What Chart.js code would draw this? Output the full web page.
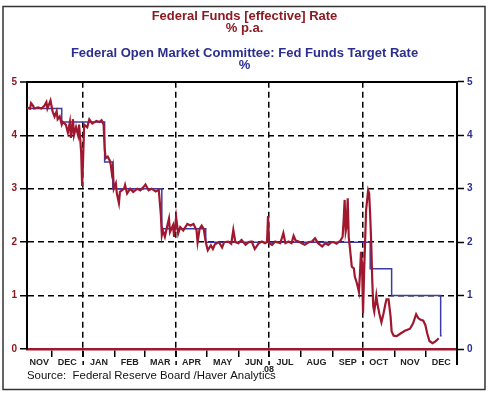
<!DOCTYPE html>
<html>
<head>
<meta charset="utf-8">
<script src="https://cdn.jsdelivr.net/npm/chart.js@4.4.1/dist/chart.umd.min.js"></script>
<style>
    html, body { margin: 0; padding: 0; background: #fff; }
    #wrap { position: relative; width: 489px; height: 394px; }
</style>
</head>
<body>
<div id="wrap"><canvas id="fedChart"></canvas></div>
<script>
// month axis
const monthLabels = ['NOV', 'DEC', 'JAN', 'FEB', 'MAR', 'APR', 'MAY', 'JUN', 'JUL', 'AUG', 'SEP', 'OCT', 'NOV', 'DEC'];
const monthStarts = ['2007-11-01', '2007-12-01', '2008-01-01', '2008-02-01', '2008-03-01', '2008-04-01', '2008-05-01',
    '2008-06-01', '2008-07-01', '2008-08-01', '2008-09-01', '2008-10-01', '2008-11-01', '2008-12-01', '2009-01-01'];
const quarterStarts = ['2008-01-01', '2008-04-01', '2008-07-01', '2008-10-01'];
const yearLabelDate = '2008-07-01';
const yearLabel = '08';
const axisStart = '2007-11-07';
const yTicks = [0, 1, 2, 3, 4, 5];

// Federal Funds [effective] Rate, % p.a.
const effDates = [
    '2007-11-07', '2007-11-10', '2007-11-11', '2007-11-13', '2007-11-14', '2007-11-18', '2007-11-21', '2007-11-24',
    '2007-11-26', '2007-11-27', '2007-11-30', '2007-12-02', '2007-12-04', '2007-12-06', '2007-12-07', '2007-12-09',
    '2007-12-11', '2007-12-12', '2007-12-15', '2007-12-17', '2007-12-19', '2007-12-20', '2007-12-22', '2007-12-23',
    '2007-12-25', '2007-12-27', '2007-12-28', '2007-12-30', '2007-12-31', '2008-01-01', '2008-01-02', '2008-01-05',
    '2008-01-07', '2008-01-10', '2008-01-14', '2008-01-17', '2008-01-19', '2008-01-21', '2008-01-22', '2008-01-23',
    '2008-01-25', '2008-01-27', '2008-01-28', '2008-01-29', '2008-01-30', '2008-01-31', '2008-02-02', '2008-02-03',
    '2008-02-05', '2008-02-06', '2008-02-10', '2008-02-11', '2008-02-13', '2008-02-16', '2008-02-19', '2008-02-23',
    '2008-02-26', '2008-02-29', '2008-03-02', '2008-03-05', '2008-03-08', '2008-03-12', '2008-03-15', '2008-03-17',
    '2008-03-18', '2008-03-19', '2008-03-21', '2008-03-23', '2008-03-25', '2008-03-26', '2008-03-29', '2008-03-30',
    '2008-04-01', '2008-04-03', '2008-04-05', '2008-04-08', '2008-04-12', '2008-04-15', '2008-04-18', '2008-04-21',
    '2008-04-22', '2008-04-24', '2008-04-26', '2008-04-28', '2008-04-30', '2008-05-02', '2008-05-05', '2008-05-07',
    '2008-05-09', '2008-05-13', '2008-05-16', '2008-05-18', '2008-05-22', '2008-05-25', '2008-05-27', '2008-05-29',
    '2008-06-01', '2008-06-04', '2008-06-08', '2008-06-11', '2008-06-14', '2008-06-17', '2008-06-21', '2008-06-24',
    '2008-06-27', '2008-06-29', '2008-06-30', '2008-07-01', '2008-07-04', '2008-07-07', '2008-07-12', '2008-07-15',
    '2008-07-17', '2008-07-20', '2008-07-23', '2008-07-25', '2008-07-27', '2008-07-30', '2008-08-02', '2008-08-05',
    '2008-08-09', '2008-08-12', '2008-08-15', '2008-08-18', '2008-08-22', '2008-08-25', '2008-08-28', '2008-08-31',
    '2008-09-02', '2008-09-05', '2008-09-09', '2008-09-11', '2008-09-12', '2008-09-13', '2008-09-14', '2008-09-15',
    '2008-09-16', '2008-09-17', '2008-09-18', '2008-09-20', '2008-09-22', '2008-09-23', '2008-09-25', '2008-09-27',
    '2008-09-28', '2008-09-29', '2008-09-30', '2008-10-01', '2008-10-02', '2008-10-03', '2008-10-04', '2008-10-06',
    '2008-10-07', '2008-10-08', '2008-10-09', '2008-10-10', '2008-10-11', '2008-10-12', '2008-10-14', '2008-10-15',
    '2008-10-17', '2008-10-19', '2008-10-21', '2008-10-23', '2008-10-24', '2008-10-26', '2008-10-28', '2008-10-29',
    '2008-10-31', '2008-11-03', '2008-11-06', '2008-11-11', '2008-11-16', '2008-11-19', '2008-11-22', '2008-11-24',
    '2008-11-26', '2008-11-29', '2008-12-01', '2008-12-03', '2008-12-05', '2008-12-08', '2008-12-10', '2008-12-12',
    '2008-12-14'
];
const effRates = [
    4.52, 4.50, 4.60, 4.55, 4.50, 4.52, 4.50, 4.55,
    4.62, 4.50, 4.65, 4.45, 4.35, 4.45, 4.30, 4.35,
    4.20, 4.25, 4.20, 4.05, 4.25, 3.95, 4.30, 4.00,
    4.15, 4.00, 4.20, 3.70, 3.05, 3.60, 4.20, 4.15,
    4.30, 4.22, 4.27, 4.25, 4.28, 4.20, 3.76, 3.57,
    3.60, 3.53, 3.45, 3.30, 3.40, 3.00, 3.10, 2.91,
    2.73, 2.94, 3.00, 3.07, 2.91, 3.00, 2.94, 3.00,
    2.97, 3.03, 3.08, 2.97, 3.00, 2.95, 2.98, 2.53,
    2.13, 2.22, 2.10, 2.28, 2.44, 2.19, 2.32, 2.10,
    2.47, 2.16, 2.28, 2.22, 2.34, 2.31, 2.34, 2.22,
    2.00, 2.25, 2.31, 2.25, 2.00, 1.85, 1.94, 1.87,
    1.96, 2.00, 1.90, 2.00, 2.01, 1.97, 2.23, 2.00,
    1.98, 2.04, 1.95, 2.00, 2.01, 1.87, 1.98, 2.01,
    1.98, 2.00, 2.49, 1.98, 1.95, 2.01, 1.98, 2.17,
    1.98, 2.01, 1.98, 2.12, 2.03, 2.01, 1.98, 1.95,
    2.00, 2.01, 2.07, 1.98, 1.92, 1.98, 1.95, 2.00,
    2.00, 1.97, 2.03, 2.10, 2.40, 2.79, 2.20, 2.30,
    2.82, 2.10, 1.92, 1.54, 1.51, 1.35, 1.23, 1.07,
    1.41, 1.82, 1.60, 0.67, 1.40, 2.00, 2.60, 2.97,
    2.91, 2.50, 2.00, 1.30, 0.80, 0.70, 1.00, 0.85,
    0.66, 0.50, 0.66, 0.85, 0.93, 0.93, 0.60, 0.33,
    0.25, 0.24, 0.28, 0.34, 0.38, 0.48, 0.65, 0.58,
    0.55, 0.53, 0.45, 0.28, 0.15, 0.11, 0.13, 0.16,
    0.20
];

// FOMC: Fed Funds Target Rate, %
const targetDates = ['2007-11-07', '2007-12-11', '2008-01-22', '2008-01-30', '2008-03-18', '2008-04-30',
    '2008-10-08', '2008-10-29', '2008-12-16', '2008-12-17'];
const targetRates = [4.50, 4.25, 3.50, 3.00, 2.25, 2.00, 1.50, 1.00, 0.25, 0.25];

const FONT = "'Liberation Sans', Arial, sans-serif";
const RED = '#a0182f';
const BLUE = '#3c3ca6';
const TITLE_RED = '#8c1a22';
const TITLE_BLUE = '#2b2e8e';
const NONE = 'rgba(0,0,0,0)';

function dayIndex(s) {
    return (Date.parse(s) - Date.parse('2007-11-01')) / 86400000;
}

const xMin = dayIndex(axisStart);
const xMax = dayIndex(monthStarts[monthStarts.length - 1]);
const boundaryDays = monthStarts.slice(1).map(dayIndex);
const quarterDays = quarterStarts.map(dayIndex);

// month names sit in the middle of the visible part of each month
const xTickText = new Map();
monthLabels.forEach((name, i) => {
    const a = Math.max(dayIndex(monthStarts[i]), xMin);
    const b = dayIndex(monthStarts[i + 1]);
    xTickText.set((a + b) / 2, name);
});
boundaryDays.forEach(d => {
    if (!xTickText.has(d)) xTickText.set(d, '');
});
xTickText.set(dayIndex(yearLabelDate), ['', yearLabel]);
const xTickValues = [...xTickText.keys()].sort((a, b) => a - b);

function toPoints(dates, values) {
    return dates.map((d, i) => ({ x: dayIndex(d), y: values[i] }));
}

const extrasPlugin = {
    id: 'extras',
    afterDraw(chart) {
        const { ctx, chartArea, scales } = chart;
        const x = scales.x;
        ctx.save();
        ctx.strokeStyle = '#000';
        ctx.lineWidth = 1.5;
        ctx.setLineDash([6, 4]);
        quarterDays.forEach(d => {
            const px = x.getPixelForValue(d);
            ctx.beginPath();
            ctx.moveTo(px, chartArea.bottom + 2);
            ctx.lineTo(px, chartArea.bottom + 16);
            ctx.stroke();
        });
        ctx.setLineDash([]);
        ctx.lineWidth = 2;
        const endPx = x.getPixelForValue(xMax);
        ctx.beginPath();
        ctx.moveTo(endPx, chartArea.bottom);
        ctx.lineTo(endPx, chartArea.bottom + 16);
        ctx.stroke();
        // outer frame
        ctx.lineWidth = 1.5;
        ctx.strokeStyle = '#333';
        ctx.strokeRect(3, 6.5, 482, 383);
        ctx.restore();
    }
};

const yTickFont = { family: FONT, size: 10, weight: 'bold' };
const titleFont = { family: FONT, size: 13, weight: 'bold', lineHeight: 0.92 };

new Chart(document.getElementById('fedChart'), {
    type: 'line',
    data: {
        datasets: [{
            label: 'Federal Funds [effective] Rate',
            data: toPoints(effDates, effRates),
            borderColor: RED,
            borderWidth: 2.2,
            pointRadius: 0,
            tension: 0
        }, {
            label: 'Fed Funds Target Rate',
            data: toPoints(targetDates, targetRates),
            borderColor: BLUE,
            borderWidth: 1.5,
            pointRadius: 0,
            stepped: 'before'
        }]
    },
    options: {
        responsive: true,
        maintainAspectRatio: false,
        animation: false,
        layout: { padding: 0 },
        plugins: {
            legend: { display: false },
            tooltip: { enabled: false },
            title: {
                display: true,
                text: ['Federal Funds [effective] Rate', '% p.a.'],
                color: TITLE_RED,
                font: titleFont,
                padding: { top: 10, bottom: 0 }
            },
            subtitle: {
                display: true,
                text: ['Federal Open Market Committee: Fed Funds Target Rate', '%'],
                color: TITLE_BLUE,
                font: titleFont,
                padding: { top: 14, bottom: 10 }
            }
        },
        scales: {
            x: {
                type: 'linear',
                min: xMin,
                max: xMax,
                afterBuildTicks: s => { s.ticks = xTickValues.map(v => ({ value: v })); },
                afterFit: s => { s.height = 45; },
                ticks: {
                    autoSkip: false,
                    maxRotation: 0,
                    minRotation: 0,
                    padding: 2,
                    color: '#222',
                    font: { family: FONT, size: 9, weight: 'bold', lineHeight: 0.75 },
                    callback: v => xTickText.get(v) ?? ''
                },
                grid: {
                    color: c => (c.tick && quarterDays.includes(c.tick.value)) ? '#000' : NONE,
                    lineWidth: 1.5,
                    tickColor: c => (c.tick && boundaryDays.includes(c.tick.value)) ? '#000' : NONE,
                    tickLength: 8,
                    tickWidth: 1.5
                },
                border: { color: RED, width: 2.5, dash: [6, 4] },
                title: {
                    display: true,
                    text: 'Source:  Federal Reserve Board /Haver Analytics',
                    align: 'start',
                    color: '#111',
                    font: { family: FONT, size: 11.4 },
                    padding: { top: 0, bottom: 11 }
                }
            },
            y: {
                position: 'left',
                min: 0,
                max: 5,
                afterBuildTicks: s => { s.ticks = yTicks.map(v => ({ value: v })); },
                afterFit: s => { s.width = 27; },
                ticks: { color: TITLE_RED, font: yTickFont, padding: 3 },
                grid: {
                    color: c => {
                        if (!c.tick || c.tick.value === 0) return NONE;
                        return '#000';
                    },
                    lineWidth: c => (c.tick && c.tick.value === 5) ? 2 : 1.5,
                    tickColor: '#000',
                    tickLength: 7,
                    tickWidth: 1.5
                },
                border: {
                    color: '#000',
                    width: 2,
                    dash: c => (c.tick && c.tick.value === 5) ? [] : [6, 4]
                }
            },
            y2: {
                position: 'right',
                min: 0,
                max: 5,
                afterBuildTicks: s => { s.ticks = yTicks.map(v => ({ value: v })); },
                afterFit: s => { s.width = 32; },
                ticks: { color: TITLE_BLUE, font: yTickFont, padding: 3 },
                grid: {
                    drawOnChartArea: false,
                    tickColor: '#000',
                    tickLength: 7,
                    tickWidth: 1.5
                },
                border: { color: '#000', width: 2 }
            }
        }
    },
    plugins: [extrasPlugin]
});
</script>
</body>
</html>
